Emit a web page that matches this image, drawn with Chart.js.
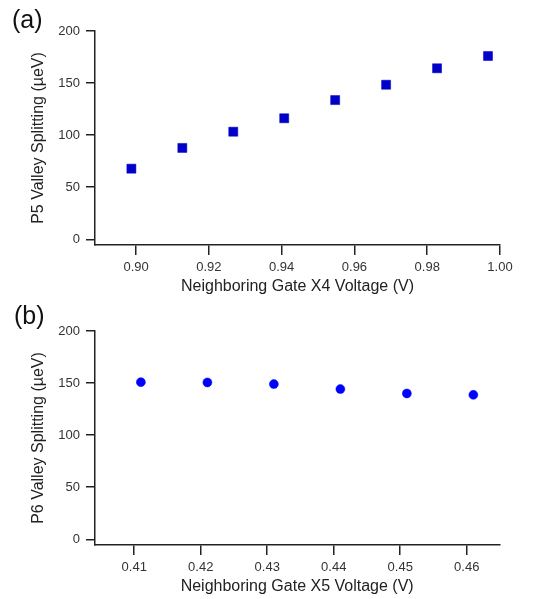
<!DOCTYPE html>
<html>
<head>
<meta charset="utf-8">
<script src="https://cdn.jsdelivr.net/npm/chart.js@4/dist/chart.umd.min.js"></script>
<style>
  html, body { margin: 0; padding: 0; background: #fff; overflow: hidden; }
  body { width: 550px; height: 599px; position: relative; font-family: "Liberation Sans", Arial, sans-serif; }
  .panel { position: absolute; left: 0; width: 550px; height: 300px; }
  .lbl { position: absolute; font-size: 25px; color: #111; line-height: 1; }
</style>
</head>
<body>
<div class="panel" style="top:0"><canvas id="ca" width="550" height="300"></canvas></div>
<div class="panel" style="top:300px"><canvas id="cb" width="550" height="300"></canvas></div>
<div class="lbl" style="left:12px; top:7px;">(a)</div>
<div class="lbl" style="left:14px; top:303px;">(b)</div>
<script>
// Panel (a): P5 valley splitting vs gate X4 voltage
const voltageX4 = [0.8987, 0.9127, 0.9267, 0.9407, 0.9547, 0.9687, 0.9827, 0.9967];
const splittingP5 = [67.8, 87.7, 103.3, 116.2, 133.7, 148.4, 164.2, 176.0];
const xTicksA = [0.90, 0.92, 0.94, 0.96, 0.98, 1.00];

// Panel (b): P6 valley splitting vs gate X5 voltage
const voltageX5 = [0.411, 0.421, 0.431, 0.441, 0.451, 0.461];
const splittingP6 = [150.9, 150.6, 149.0, 144.2, 140.0, 138.7];
const xTicksB = [0.41, 0.42, 0.43, 0.44, 0.45, 0.46];

const yTicks = [0, 50, 100, 150, 200];

const FONT = "'Liberation Sans', Arial, sans-serif";
const AXIS_COLOR = '#222';

function makeChart(id, xs, ys, xTicks, xMin, xMax, xTitle, yTitle, style, color, radius, padRight) {
  const pts = xs.map((x, i) => ({ x: x, y: ys[i] }));
  return new Chart(document.getElementById(id), {
    type: 'scatter',
    data: {
      datasets: [{
        data: pts,
        pointStyle: style,
        pointRadius: radius,
        pointHoverRadius: radius,
        backgroundColor: color,
        borderColor: color,
        borderWidth: 0.5
      }]
    },
    options: {
      responsive: false,
      animation: false,
      events: [],
      layout: { padding: { top: 31, left: 0, right: padRight, bottom: 0 } },
      plugins: { legend: { display: false }, tooltip: { enabled: false } },
      scales: {
        x: {
          type: 'linear',
          min: xMin, max: xMax,
          afterBuildTicks: (axis) => { axis.ticks = xTicks.map(v => ({ value: v })); },
          afterFit: (axis) => { axis.height = 55; },
          ticks: {
            includeBounds: false,
            autoSkip: false,
            maxRotation: 0,
            padding: 5,
            color: '#333',
            font: { family: FONT, size: 13 },
            callback: (v) => Number(v).toFixed(2)
          },
          grid: { display: true, drawOnChartArea: false, drawTicks: true, tickLength: 10, color: AXIS_COLOR, lineWidth: 1.5 },
          border: { display: true, color: AXIS_COLOR, width: 1.5 },
          title: { display: true, text: xTitle, color: '#222', font: { family: FONT, size: 16 }, padding: { top: 0, bottom: 3.4 } }
        },
        y: {
          type: 'linear',
          min: -5.5, max: 200,
          afterBuildTicks: (axis) => { axis.ticks = yTicks.map(v => ({ value: v })); },
          afterFit: (axis) => { axis.width = 95; },
          ticks: {
            includeBounds: false,
            padding: 6,
            color: '#333',
            font: { family: FONT, size: 13 }
          },
          grid: { display: true, drawOnChartArea: false, drawTicks: true, tickLength: 9, color: AXIS_COLOR, lineWidth: 1.5 },
          border: { display: true, color: AXIS_COLOR, width: 1.5 },
          title: { display: true, text: yTitle, color: '#222', font: { family: FONT, size: 16 }, padding: { top: 29.4, bottom: 0 } }
        }
      }
    }
  });
}

makeChart('ca', voltageX4, splittingP5, xTicksA, 0.8887, 1.00,
  'Neighboring Gate X4 Voltage (V)', 'P5 Valley Splitting (\u00b5eV)', 'rect', '#0000C8', 6.4, 50);
makeChart('cb', voltageX5, splittingP6, xTicksB, 0.4041, 0.4649,
  'Neighboring Gate X5 Voltage (V)', 'P6 Valley Splitting (\u00b5eV)', 'circle', '#0000FF', 4.5, 50.7);
</script>
</body>
</html>
